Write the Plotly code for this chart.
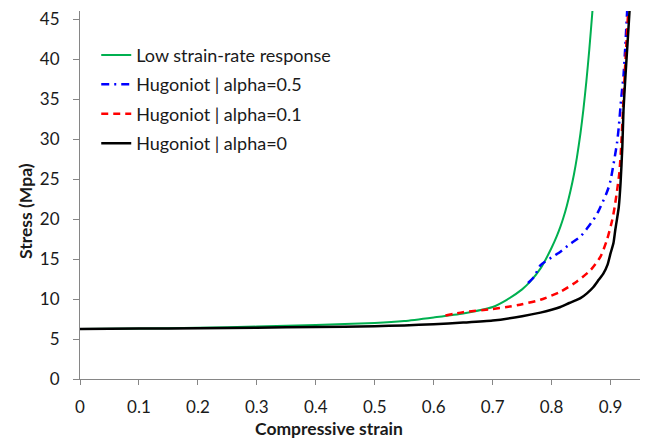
import plotly.graph_objects as go

# Low strain-rate response (green)
strain_low = [0, 0.1, 0.2, 0.3, 0.4, 0.5, 0.55, 0.6, 0.65, 0.7, 0.724, 0.75, 0.764, 0.781, 0.79,
              0.8, 0.809, 0.815, 0.82, 0.826, 0.832, 0.838, 0.843, 0.849, 0.854, 0.859, 0.864,
              0.869, 0.871]
stress_low = [6.25, 6.3, 6.4, 6.55, 6.75, 7.0, 7.25, 7.7, 8.2, 9.0, 9.9, 11.2, 12.2, 13.8, 14.95,
              16.4, 17.9, 19.05, 20.15, 21.7, 23.5, 25.6, 27.7, 30.7, 33.7, 37.2, 41.2,
              45.7, 47.6]

# Hugoniot alpha=0.5 (blue)
strain_a05 = [0.76, 0.77, 0.781, 0.8, 0.815, 0.83, 0.849, 0.86, 0.871, 0.879, 0.886, 0.892, 0.897,
              0.9, 0.905, 0.911, 0.914, 0.918, 0.922, 0.925, 0.928, 0.929]
stress_a05 = [12.0, 12.75, 14.2, 15.2, 15.9, 16.8, 17.8, 18.8, 19.9, 20.9, 22.0, 23.0, 24.0,
              24.8, 26.8, 29.5, 31.5, 35.0, 37.9, 41.5, 45.7, 47.0]

# Hugoniot alpha=0.1 (red)
strain_a01 = [0.62, 0.634, 0.65, 0.7, 0.724, 0.75, 0.781, 0.815, 0.843, 0.866, 0.883, 0.894,
              0.903, 0.907, 0.911, 0.915, 0.918, 0.921, 0.924, 0.927, 0.93, 0.931]
stress_a01 = [7.95, 8.15, 8.35, 8.75, 9.0, 9.35, 9.9, 10.9, 12.2, 13.6, 15.3, 17.4,
              19.9, 21.5, 23.5, 25.8, 29.0, 33.5, 38.0, 42.0, 46.0, 47.5]

# Hugoniot alpha=0 (black)
strain_a0 = [0, 0.1, 0.2, 0.3, 0.4, 0.5, 0.55, 0.6, 0.65, 0.7, 0.75, 0.781, 0.8, 0.815, 0.83,
             0.849, 0.86, 0.871, 0.88, 0.888, 0.895, 0.9, 0.905, 0.908, 0.911, 0.914, 0.917,
             0.92, 0.922, 0.925, 0.928, 0.931, 0.933]
stress_a0 = [6.25, 6.3, 6.35, 6.42, 6.5, 6.6, 6.7, 6.85, 7.05, 7.3, 7.85, 8.3, 8.65, 9.0, 9.5,
             10.1, 10.7, 11.5, 12.4, 13.2, 14.3, 15.7, 17.0, 18.6, 20.0, 21.5, 24.5,
             29.0, 33.6, 37.5, 41.0, 44.5, 47.0]

x_ticks = [0, 0.1, 0.2, 0.3, 0.4, 0.5, 0.6, 0.7, 0.8, 0.9]
y_ticks = [0, 5, 10, 15, 20, 25, 30, 35, 40, 45]

FONT = "Lato"
AXIS_COLOR = "#868686"
TEXT_COLOR = "#1a1a1a"
SMOOTH = 0.6

fig = go.Figure()
fig.add_trace(go.Scatter(x=strain_low, y=stress_low, mode="lines", name="Low strain-rate response",
                         legendgroup="g1",
                         line=dict(color="#00B050", width=2, shape="spline", smoothing=SMOOTH)))
fig.add_trace(go.Scatter(x=strain_a05, y=stress_a05, mode="lines", name="Hugoniot | alpha=0.5",
                         legendgroup="g2",
                         line=dict(color="#0000FF", width=2.5, dash="8px,5px,2px,5px",
                                   shape="spline", smoothing=SMOOTH)))
fig.add_trace(go.Scatter(x=strain_a01, y=stress_a01, mode="lines", name="Hugoniot | alpha=0.1",
                         legendgroup="g3",
                         line=dict(color="#FF0000", width=2.5, dash="7px,5px",
                                   shape="spline", smoothing=SMOOTH)))
fig.add_trace(go.Scatter(x=strain_a0, y=stress_a0, mode="lines", name="Hugoniot | alpha=0",
                         legendgroup="g4",
                         line=dict(color="#000000", width=2.5, shape="spline", smoothing=SMOOTH)))

fig.update_layout(
    width=646, height=439,
    margin=dict(l=80, r=6, t=11, b=60),
    plot_bgcolor="white", paper_bgcolor="white",
    font=dict(family=FONT, size=17, color=TEXT_COLOR),
    showlegend=True,
    legend=dict(x=0.029, y=0.93, xanchor="left", yanchor="top", bgcolor="rgba(0,0,0,0)",
                font=dict(family=FONT, size=18, color=TEXT_COLOR), tracegroupgap=3,
                itemwidth=30),
    xaxis=dict(range=[0, 0.95], tickvals=x_ticks, ticktext=[str(v) for v in x_ticks],
               showgrid=False, zeroline=False, showline=True, linecolor=AXIS_COLOR, linewidth=1,
               ticks="outside", ticklen=5, tickcolor=AXIS_COLOR, tickfont=dict(size=17),
               ticklabelstandoff=8),
    yaxis=dict(range=[0, 46], tickvals=y_ticks, ticktext=[str(v) for v in y_ticks],
               showgrid=False, zeroline=False, showline=True, linecolor=AXIS_COLOR, linewidth=1,
               ticks="outside", ticklen=6, tickcolor=AXIS_COLOR, tickfont=dict(size=17),
               ticklabelstandoff=10),
    annotations=[
        dict(text="<b>Compressive strain</b>", xref="paper", yref="paper",
             x=(329 - 80) / 560, y=-(428 - 379) / 368, xanchor="center", yanchor="middle",
             showarrow=False, font=dict(family=FONT, size=17.5, color=TEXT_COLOR)),
        dict(text="<b>Stress (Mpa)</b>", xref="paper", yref="paper", textangle=-90,
             x=-(80 - 25) / 560, y=(379 - 211) / 368, xanchor="center", yanchor="middle",
             showarrow=False, font=dict(family=FONT, size=17.5, color=TEXT_COLOR)),
    ],
)

fig.write_html("out.html")
